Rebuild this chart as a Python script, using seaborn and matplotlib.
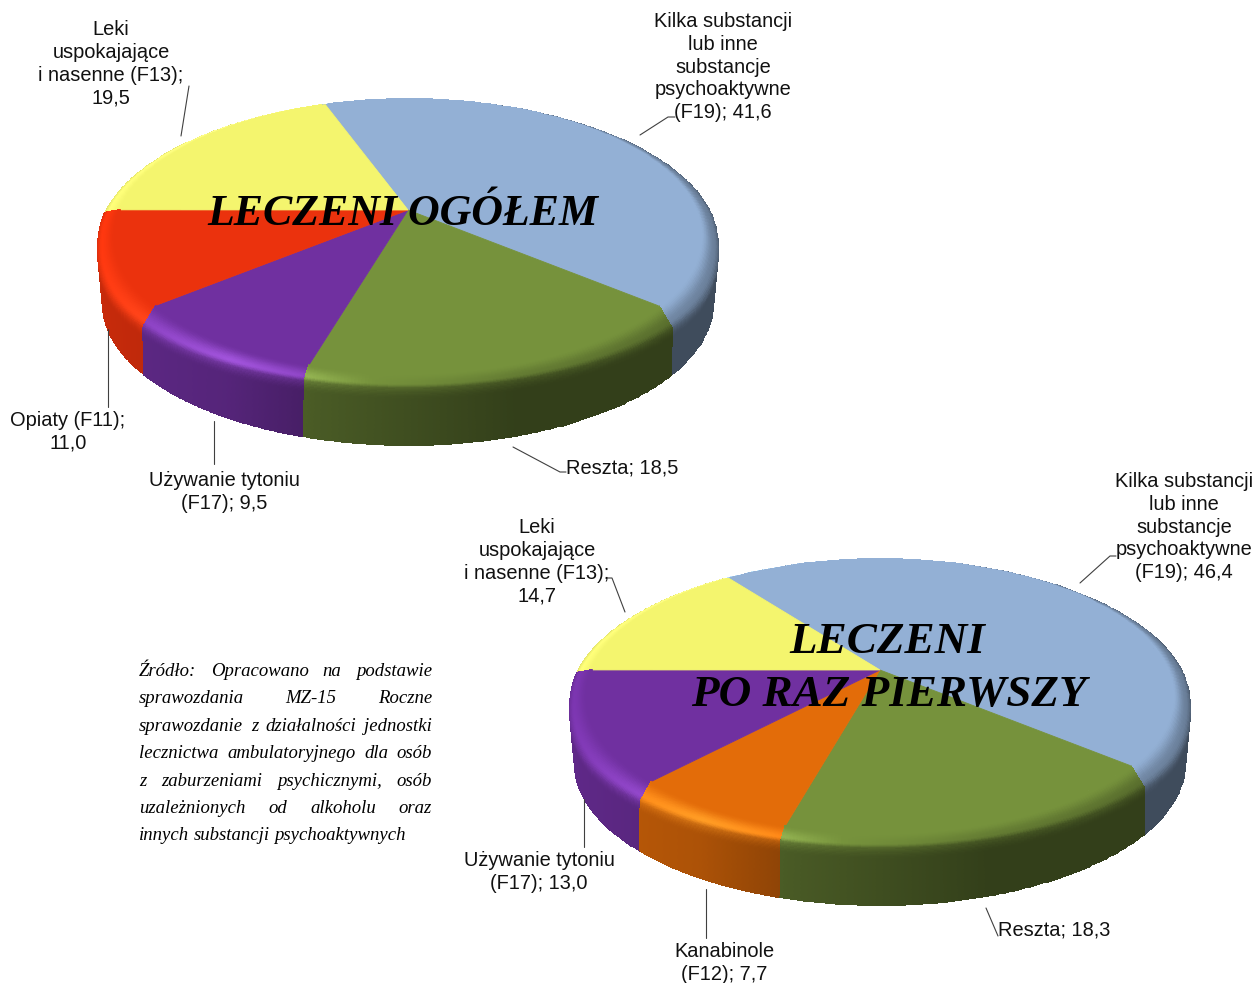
import numpy as np
import matplotlib
matplotlib.use('Agg')
import matplotlib.pyplot as plt
from matplotlib.transforms import Transform
import seaborn as sns

# values as printed on the slices
names_all = ['Kilka substancji', 'Reszta', 'Uzywanie tytoniu', 'Opiaty', 'Leki']
values_all = [41.6, 18.5, 9.5, 11.0, 19.5]
colors_all = ['#93B0D5', '#76923C', '#7030A0', '#EB320D', '#F4F56E']

names_first = ['Kilka substancji', 'Reszta', 'Kanabinole', 'Uzywanie tytoniu', 'Leki']
values_first = [46.4, 18.3, 7.7, 13.0, 14.7]
colors_first = ['#93B0D5', '#76923C', '#E36C09', '#7030A0', '#F4F56E']

labels_all = [
    (111, 20, 'Leki\nuspokajające\ni nasenne (F13);\n19,5'),
    (723, 12, 'Kilka substancji\nlub inne\nsubstancje\npsychoaktywne\n(F19); 41,6'),
    (622, 458, 'Reszta; 18,5'),
    (68, 411, 'Opiaty (F11);\n11,0'),
    (224, 471, 'Używanie tytoniu\n(F17); 9,5'),
]
labels_first = [
    (537, 518, 'Leki\nuspokajające\ni nasenne (F13);\n14,7'),
    (1184, 472, 'Kilka substancji\nlub inne\nsubstancje\npsychoaktywne\n(F19); 46,4'),
    (1054, 920, 'Reszta; 18,3'),
    (724, 942, 'Kanabinole\n(F12); 7,7'),
    (539, 851, 'Używanie tytoniu\n(F17); 13,0'),
]
leaders = [
    [(181, 136), (189, 86)],
    [(640, 135), (668, 117), (675, 117)],
    [(513, 447), (560, 472), (566, 472)],
    [(108, 329), (108, 407)],
    [(214, 421), (214, 464)],
    [(625, 612), (612, 578), (607, 578)],
    [(1080, 583), (1110, 556), (1116, 556)],
    [(986, 908), (998, 936)],
    [(706, 889), (706, 938)],
    [(584, 799), (584, 847)],
]
source_lines = [
    'Źródło: Opracowano na podstawie',
    'sprawozdania MZ-15 Roczne',
    'sprawozdanie z działalności jednostki',
    'lecznictwa ambulatoryjnego dla osób',
    'z zaburzeniami psychicznymi, osób',
    'uzależnionych od alkoholu oraz',
    'innych substancji psychoaktywnych',
]

sns.set_theme(style='white')
plt.rcParams['font.family'] = 'Liberation Sans'


class DiskView(Transform):
    # tilts the unit pie into the perspective ellipse of the picture
    input_dims = 2
    output_dims = 2
    has_inverse = False

    def __init__(self, cx, cy, a, b, k):
        super().__init__()
        self.p = (cx, cy, a, b, k)

    def transform_non_affine(self, pts):
        cx, cy, a, b, k = self.p
        pts = np.asarray(pts)
        w = 1 + k * pts[:, 1]
        return np.column_stack((cx + a * pts[:, 0] / w, cy - b * pts[:, 1] / w))


# a, b, k, apex drop for flat top, bevel edge back/front, wall bottom
flat = np.array([287, 131.7, 0.187, 0])
edge_back = np.array([303, 139, 0.225, 3])
edge_front = np.array([304, 120, 0.178, 31])
bottom = np.array([299, 136, 0.2, 65])


def smooth(v):
    v = np.clip(v, 0, 1)
    return v * v * (3 - 2 * v)


def shade(base, t, u):
    base = np.array(base)[None, None, :]
    t = t[..., None]
    wall = np.interp(u, [-1, -0.5, -0.25, 0.3, 1], [0.86, 0.76, 0.62, 0.43, 0.43])[..., None]
    gain = np.interp(u, [-1, -0.5, -0.3, -0.1, 1], [0.1, 0.32, 0.22, 0, 0])[..., None]
    lift = np.interp(u, [-1, -0.5, -0.3, -0.1, 1], [0, 0.1, 0.06, 0, 0])[..., None]
    dim = np.interp(u, [-0.1, 0.3, 1], [1, 0.85, 0.72])[..., None]
    peak = (np.clip(base * (1 + gain), 0, 1) + lift * (1 - base)) * dim
    col = base + (peak - base) * smooth(t / 0.75)
    col = col + (base * wall - col) * smooth((t - 0.7) / 0.5)
    return np.clip(col, 0, 1)


def draw_pie(ax, values, colors, start, cx, cy):
    wedges, _ = ax.pie(values, colors=sns.color_palette(colors), startangle=start, counterclock=False,
                       wedgeprops={'linewidth': 0.6, 'zorder': 5})
    ts = np.linspace(2, 0, 90)
    order = sorted(range(len(wedges)),
                   key=lambda i: -np.sin(np.radians((wedges[i].theta1 + wedges[i].theta2) / 2)))
    for i in order:
        w = wedges[i]
        w.set_edgecolor(w.get_facecolor())
        w.set_transform(DiskView(cx, cy, flat[0], flat[1], flat[2]) + ax.transData)
        th = np.radians(np.linspace(w.theta1, w.theta2, 120))
        T, TH = np.meshgrid(ts, th, indexing='ij')
        s = smooth(-np.sin(TH) / 0.5)[..., None]
        edge = edge_back + (edge_front - edge_back) * s
        f = np.minimum(T, 1)[..., None]
        g = np.maximum(T - 1, 0)[..., None]
        par = flat + (edge - flat) * f + (bottom - edge) * g
        a, b, k, d = par[..., 0], par[..., 1], par[..., 2], par[..., 3]
        den = 1 + k * np.sin(TH)
        X = cx + a * np.cos(TH) / den
        Y = cy + d - b * np.sin(TH) / den
        tm = (T[:-1, :-1] + T[1:, 1:]) / 2
        um = np.cos((TH[:-1, :-1] + TH[1:, 1:]) / 2)
        ax.pcolormesh(X, Y, shade(matplotlib.colors.to_rgb(colors[i]), tm, um), shading='flat',
                      edgecolors='face', linewidth=0.3, zorder=3)


fig = plt.figure(figsize=(12.56, 9.83), dpi=100)
ax = fig.add_axes([0, 0, 1, 1])

draw_pie(ax, values_all, colors_all, 109.8, 408, 210)
draw_pie(ax, values_first, colors_first, 127.1, 880, 670)

ax.set_aspect('auto')
ax.set_xlim(0, 1256)
ax.set_ylim(983, 0)
ax.axis('off')

for pts in leaders:
    ax.plot([p[0] for p in pts], [p[1] for p in pts], color='#404040', lw=0.8, zorder=6)

for x, y, s in labels_all + labels_first:
    ax.text(x, y, s, ha='center', va='top', ma='center', fontsize=14.4, linespacing=1.255,
            color='#111111', zorder=7)

title_font = {'family': 'Liberation Serif', 'style': 'italic', 'weight': 'bold',
              'color': 'black', 'zorder': 8, 'va': 'baseline'}
ax.text(403, 225, 'LECZENI OGÓŁEM', ha='center', fontsize=31.6, **title_font)
ax.text(887, 653, 'LECZENI', ha='center', fontsize=32.5, **title_font)
ax.text(889, 706, 'PO RAZ PIERWSZY', ha='center', fontsize=32.5, **title_font)

# source note, justified like the original text box
renderer = fig.canvas.get_renderer()
left, right = 139, 432
for n, line in enumerate(source_lines):
    y = 676 + n * 27.4
    words = line.split(' ')
    arts = [ax.text(0, y, w, family='Liberation Serif', style='italic', fontsize=13.5,
                    color='black', va='baseline', ha='left') for w in words]
    widths = [a.get_window_extent(renderer).width for a in arts]
    gap = (right - left - sum(widths)) / (len(words) - 1)
    if n == len(source_lines) - 1:
        gap = 4.5
    x = left
    for a, wd in zip(arts, widths):
        a.set_x(x)
        x += wd + gap

fig.savefig('out.png', dpi=100)
